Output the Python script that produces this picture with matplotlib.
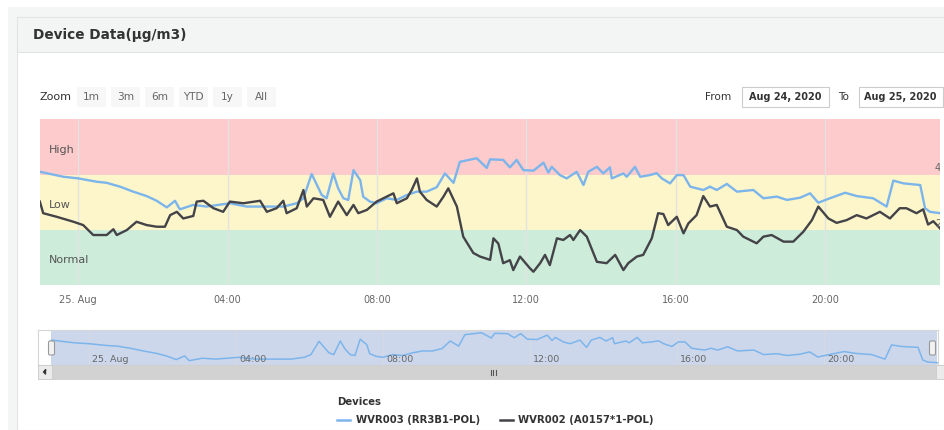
import matplotlib
matplotlib.use("Agg")
import matplotlib.pyplot as plt
from matplotlib.patches import Rectangle, FancyBboxPatch
import matplotlib.transforms as mtransforms

plt.rcParams['font.family'] = ['DejaVu Sans']

# ---------------- data ----------------
# hours relative to 25 Aug 2020 00:00
blue_t = [-1.03, -0.40, 0.00, 0.49, 0.76, 1.12, 1.47, 1.83, 2.10, 2.37, 2.59, 2.72, 3.08, 3.44,
          4.06, 4.51, 4.96, 5.49, 5.85, 6.03, 6.25, 6.52, 6.65, 6.83, 6.96, 7.10, 7.23, 7.37,
          7.55, 7.63, 7.81, 7.99, 8.26, 8.53, 8.80, 9.07, 9.33, 9.60, 9.82, 10.05, 10.22, 10.67,
          10.94, 11.03, 11.38, 11.56, 11.74, 11.92, 12.19, 12.46, 12.59, 12.68, 12.90, 13.08,
          13.35, 13.53, 13.66, 13.89, 14.06, 14.24, 14.29, 14.60, 14.69, 14.91, 15.05, 15.31,
          15.49, 15.63, 15.85, 16.03, 16.21, 16.39, 16.74, 16.92, 17.10, 17.37, 17.64, 18.08,
          18.35, 18.71, 18.98, 19.33, 19.60, 19.82, 20.13, 20.54, 20.85, 21.29, 21.65, 21.83,
          22.10, 22.55, 22.68, 22.81, 23.08]
blue_v = [41.0, 39.2, 38.6, 37.4, 37.0, 35.6, 33.8, 32.2, 30.5, 28.1, 30.5, 27.4, 29.0, 28.4,
          29.6, 28.4, 28.4, 28.4, 29.6, 31.4, 40.2, 32.6, 31.4, 40.4, 35.0, 31.4, 30.8, 41.6,
          38.0, 32.0, 30.2, 29.6, 31.4, 30.8, 32.6, 33.8, 33.8, 35.4, 40.4, 37.0, 44.6, 45.9,
          42.4, 45.5, 45.3, 42.6, 45.3, 41.6, 41.4, 44.3, 40.7, 42.8, 39.8, 38.6,
          41.0, 36.2, 41.0, 42.8, 40.4, 42.6, 38.6, 40.4, 39.2, 42.8, 39.2, 39.8,
          40.5, 38.6, 36.8, 39.8, 39.8, 35.6, 34.4, 35.6, 34.4, 36.6, 33.8, 34.4,
          31.4, 32.0, 30.8, 31.6, 33.2, 29.8, 31.4, 33.4, 32.2, 31.4, 28.4, 37.8,
          36.8, 36.2, 27.8, 26.5, 26.0]

black_t = [-1.03, -0.94, -0.58, -0.13, 0.13, 0.40, 0.76, 0.94, 1.03, 1.30, 1.56, 1.83, 2.10,
           2.32, 2.46, 2.64, 2.81, 3.08, 3.17, 3.35, 3.62, 3.88, 4.06, 4.42, 4.87, 5.05, 5.31,
           5.49, 5.58, 5.85, 6.03, 6.12, 6.30, 6.56, 6.74, 6.96, 7.19, 7.37, 7.50, 7.73, 7.99,
           8.17, 8.44, 8.53, 8.80, 8.93, 9.07, 9.15, 9.33, 9.60, 9.78, 9.91, 10.14, 10.31,
           10.58, 10.76, 11.03, 11.12, 11.25, 11.38, 11.56, 11.65, 11.83, 12.10, 12.19, 12.37,
           12.50, 12.63, 12.82, 12.99, 13.17, 13.26, 13.44, 13.62, 13.89, 14.15, 14.38, 14.60,
           14.73, 14.96, 15.13, 15.36, 15.53, 15.67, 15.80, 16.03, 16.21, 16.34, 16.56, 16.74,
           16.92, 17.10, 17.37, 17.64, 17.81, 18.17, 18.35, 18.57, 18.89, 19.15, 19.42, 19.65,
           19.82, 20.09, 20.31, 20.58, 20.85, 21.11, 21.47, 21.74, 22.00, 22.18, 22.45, 22.63,
           22.76, 22.90, 23.08]
black_v = [30.2, 26.0, 24.7, 22.9, 21.7, 18.1, 18.1, 20.2, 18.1, 19.9, 22.9, 21.7, 21.1,
           21.1, 25.3, 26.5, 24.1, 25.0, 30.2, 30.5, 27.8, 26.5, 30.2, 29.6, 30.5, 26.5, 27.8,
           30.5, 26.0, 27.8, 34.4, 28.4, 31.4, 30.8, 24.7, 30.2, 25.3, 29.0, 26.0, 27.2, 30.2,
           31.4, 33.2, 29.6, 31.4, 34.4, 38.6, 33.8, 30.8, 28.4, 32.0, 35.0, 28.4, 17.5,
           11.6, 10.3, 9.1, 16.9, 15.0, 7.9, 9.0, 5.4, 10.3, 6.0, 4.8, 7.9,
           10.9, 7.2, 16.9, 16.3, 18.1, 16.3, 19.9, 17.5, 8.4, 7.9, 10.9, 5.4,
           7.9, 10.3, 10.9, 16.9, 26.0, 25.7, 21.7, 24.7, 18.7, 22.3, 25.3, 32.2,
           28.4, 29.0, 21.1, 19.9, 17.5, 15.1, 17.5, 18.1, 15.7, 15.7, 19.3, 23.5,
           28.4, 24.1, 22.5, 23.5, 25.3, 24.1, 26.5, 24.1, 27.8, 27.8, 26.0, 27.4,
           21.9, 23.1, 20.5]

series_names = ["WVR003 (RR3B1-POL)", "WVR002 (A0157*1-POL)"]
band_edges = [0, 20, 40, 60]
band_names = ["Normal", "Low", "High"]
tick_hours = [0, 4, 8, 12, 16, 20]
tick_labels = ["25. Aug", "04:00", "08:00", "12:00", "16:00", "20:00"]
y_labels = ["20", "40"]
zoom_buttons = ["1m", "3m", "6m", "YTD", "1y", "All"]
date_from = "Aug 24, 2020"
date_to = "Aug 25, 2020"
title = "Device Data(\u00b5g/m3)"

BLUE = "#7cb5ec"
BLACK = "#434348"
band_colors = ["#cdecda", "#fdf6ca", "#fdcbcb"]

# ---------------- figure ----------------
W, H = 945, 430
fig = plt.figure(figsize=(W / 100, H / 100), dpi=100)
fig.patch.set_facecolor("white")


def rect_px(x, y, w, h):
    return [x / W, 1 - (y + h) / H, w / W, h / H]


bg = fig.add_axes([0, 0, 1, 1], zorder=0)
bg.set_xlim(0, W)
bg.set_ylim(H, 0)
bg.axis("off")

# page & panel
bg.add_patch(Rectangle((8, 7), W - 8, H - 7, facecolor="#f4f5f5", edgecolor="none"))
bg.add_patch(Rectangle((17, 17), W - 17, H - 17, facecolor="white", edgecolor="#e2e4e4", lw=0.8))
bg.add_patch(Rectangle((17, 17), W - 17, 35, facecolor="#f3f5f5", edgecolor="#e2e4e4", lw=0.8))
bg.text(33, 35.5, title, fontsize=9.8, fontweight="bold", color="#333333", va="center", ha="left")

# range selector
bg.text(40, 97.5, "Zoom", fontsize=8, color="#333333", va="center", ha="left")
btn_x = [77, 111, 145, 179, 213, 247]
for bx, lab in zip(btn_x, zoom_buttons):
    bg.add_patch(Rectangle((bx, 87), 29, 20, facecolor="#f7f7f7", edgecolor="none"))
    bg.text(bx + 14.5, 97.5, lab, fontsize=7.6, color="#666666", va="center", ha="center")

bg.text(705, 97.5, "From", fontsize=7.6, color="#333333", va="center", ha="left")
bg.add_patch(Rectangle((741.5, 87), 87, 20, facecolor="white", edgecolor="#cccccc", lw=0.8))
bg.text(785, 97.5, date_from, fontsize=7, fontweight="bold", color="#333333", va="center", ha="center")
bg.text(838, 97.5, "To", fontsize=7.6, color="#333333", va="center", ha="left")
bg.add_patch(Rectangle((859, 87), 84, 20, facecolor="white", edgecolor="#cccccc", lw=0.8))
bg.text(900, 97.5, date_to, fontsize=7, fontweight="bold", color="#333333", va="center", ha="center")

# ---------------- main plot ----------------
x0_h = -1.026
x1_h = 23.08
ax = fig.add_axes(rect_px(40, 119.3, 900, 165.7), zorder=2)
btr = mtransforms.blended_transform_factory(ax.transAxes, ax.transData)
for i, name in enumerate(band_names):
    ax.axhspan(band_edges[i], band_edges[i + 1], color=band_colors[i], lw=0, zorder=0)
    ax.text(9 / 900, (band_edges[i] + band_edges[i + 1]) / 2 - 1.0, name, transform=btr,
            fontsize=8, color="#555555", va="center", ha="left", zorder=3)
ax.plot(blue_t, blue_v, color=BLUE, lw=1.7, zorder=4, solid_joinstyle="round")
ax.plot(black_t, black_v, color=BLACK, lw=1.7, zorder=5, solid_joinstyle="round")
ax.set_xlim(x0_h, x1_h)
ax.set_ylim(band_edges[0], band_edges[-1])
ax.set_xticks(tick_hours)
ax.set_xticklabels(tick_labels)
ax.set_yticks([])
ax.tick_params(axis="x", length=0, pad=7, labelsize=7, labelcolor="#666666")
ax.grid(axis="x", color="#e3e3e3", lw=1)
for s in ax.spines.values():
    s.set_visible(False)
for yl in y_labels:
    ax.text(1 - 5 / 900, float(yl) + 2.2, yl, transform=btr, fontsize=7, color="#666666",
            ha="left", va="center", clip_on=False, zorder=6)

# ---------------- navigator ----------------
nav_l, nav_r = 38, 938
nx0 = (nav_l - 89.3) / 36.75
nx1 = (nav_r - 89.3) / 36.75
nav = fig.add_axes(rect_px(nav_l, 330, nav_r - nav_l, 35), zorder=2)
nav.set_xlim(nx0, nx1)
nav.set_ylim(24.5, 47.7)
nav.axvspan(blue_t[0], blue_t[-1], color=(102 / 255, 133 / 255, 194 / 255, 0.32), lw=0, zorder=0)
nav.plot(blue_t, blue_v, color=BLUE, lw=1.1, zorder=3)
nav.set_xticks(tick_hours)
nav.set_xticklabels([])
nav.set_yticks([])
nav.tick_params(length=0)
nav.grid(axis="x", color="#d5d9e3", lw=0.8)
for s in nav.spines.values():
    s.set_color("#d6d6d6")
    s.set_linewidth(0.8)
ntr = mtransforms.blended_transform_factory(nav.transData, nav.transAxes)
for th, tl in zip(tick_hours, tick_labels):
    nav.text(th + 0.08, 0.16, tl, transform=ntr, fontsize=6.8, color="#666666",
             ha="left", va="center", zorder=4)

# ---------------- scrollbar, handles, legend (overlay) ----------------
fg = fig.add_axes([0, 0, 1, 1], zorder=5)
fg.set_xlim(0, W)
fg.set_ylim(H, 0)
fg.axis("off")
fg.patch.set_alpha(0)

for hx in (48.5, 929.5):
    fg.add_patch(FancyBboxPatch((hx, 341), 6, 14, boxstyle="round,pad=0,rounding_size=1.5",
                                facecolor="#f2f2f2", edgecolor="#999999", lw=0.8))

fg.add_patch(Rectangle((38, 365), W - 38, 14, facecolor="#d2d2d2", edgecolor="#cfcfcf", lw=0.6))
fg.add_patch(Rectangle((38, 365), 14, 14, facecolor="#ebebeb", edgecolor="#cccccc", lw=0.6))
fg.add_patch(Rectangle((936, 365), 9, 14, facecolor="#ebebeb", edgecolor="#cccccc", lw=0.6))
fg.plot([45.5, 43.5, 45.5, 45.5], [370, 372, 374, 370], color="#333333", lw=1)
for gx in (490.5, 493, 495.5):
    fg.plot([gx, gx], [369.5, 374.5], color="#555555", lw=0.8)

# crop strip at the right edge of the screenshot
fg.add_patch(Rectangle((940, 110), 5, 180, facecolor="white", edgecolor="none"))

# legend
fg.text(337, 402, "Devices", fontsize=7.3, fontweight="bold", color="#333333", va="center", ha="left")
fg.plot([337, 350], [420, 420], color=BLUE, lw=1.8)
fg.text(355.5, 420, series_names[0], fontsize=7.3, fontweight="bold", color="#333333",
        va="center", ha="left")
fg.plot([500, 513], [420, 420], color=BLACK, lw=1.8)
fg.text(518.5, 420, series_names[1], fontsize=7.3, fontweight="bold", color="#333333",
        va="center", ha="left")

fig.savefig("out.png", dpi=100)
